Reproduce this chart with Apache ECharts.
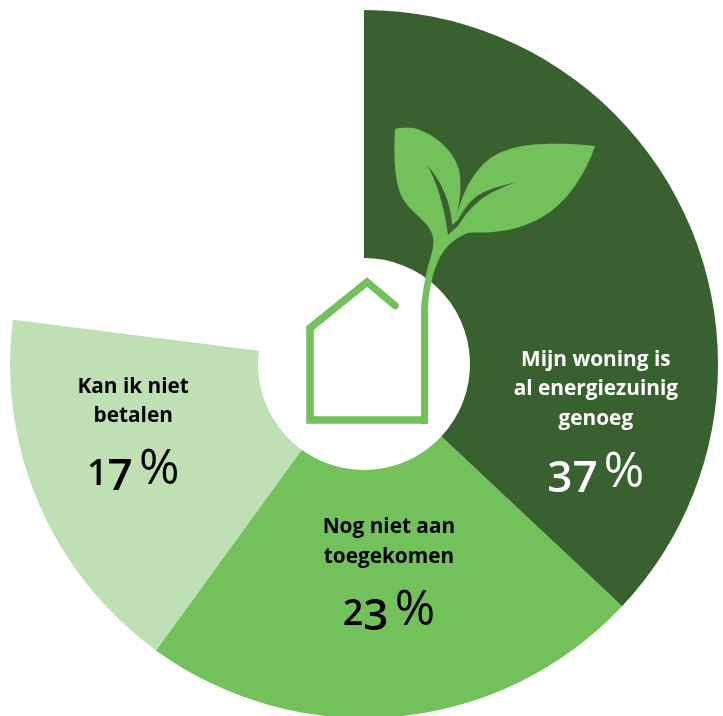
<!DOCTYPE html>
<html><head><meta charset="utf-8">
<style>
html,body{margin:0;padding:0;background:#fff;overflow:hidden}
#c{width:723px;height:716px}
</style>
<script src="https://cdn.jsdelivr.net/npm/echarts@6/dist/echarts.min.js"></script>
</head><body><div id="c"></div>
<script>
const categories = ["Mijn woning is\nal energiezuinig\ngenoeg", "Nog niet aan\ntoegekomen", "Kan ik niet\nbetalen"];
const values = [37, 23, 17];
const remainder = 23;
const colors = ["#396130", "#73c15b", "#bfe0b4"];
const textColors = ["#ffffff", "#000000", "#000000"];
const labelOffsets = [[18, 153.5], [3, -18.5], [-17, -19.5]];

const chart = echarts.init(document.getElementById('c'), null, {renderer: 'canvas'});
const FONT = '"Open Sans"';
const pctText = v => String(v).split('').map(ch => (ch === '1' || ch === '2' ? `{s|${ch}}` : `{d|${ch}}`)).join('') + '{w| }{p|%}';
const items = values.map((v, i) => ({
  name: categories[i], value: v,
  itemStyle: {color: colors[i]},
  label: {
    show: true, position: 'inside', offset: labelOffsets[i],
    formatter: () => categories[i].split('\n').map(s => `{n|${s}}`).join('\n') + `\n{g|}\n` + pctText(v),
    rich: {
      n: {fontFamily: FONT, fontWeight: 700, fontSize: 20.8, lineHeight: 29.5, color: textColors[i]},
      g: {height: 15, lineHeight: 15, fontSize: 1},
      d: {fontFamily: FONT, fontWeight: 600, fontSize: 44, lineHeight: 56, verticalAlign: 'top', padding: [9, 0, 0, 0], color: textColors[i]},
      s: {fontFamily: FONT, fontWeight: 600, fontSize: 36, lineHeight: 56, verticalAlign: 'top', padding: [10.5, 0, 0, 0], color: textColors[i]},
      w: {fontFamily: FONT, fontSize: 24, lineHeight: 56, verticalAlign: 'top'},
      p: {fontFamily: FONT, fontWeight: 400, fontSize: 49, lineHeight: 56, verticalAlign: 'top', color: textColors[i]}
    }
  }
}));
items.push({name: '', value: remainder, itemStyle: {color: 'rgba(0,0,0,0)'}, label: {show: false}, silent: true, emphasis: {disabled: true}});

const plant = 'M395,129 C402,127 413,127 420,130 C438,137 454,152 459,170 C462,185 460,203 455,222 C459,205 465,188 473,177 C482,163 494,154 507,150 C525,143 560,142 595,146 C585,175 570,195 555,208 C535,224 515,230 493,232 C483,233 474,232 468,233 C455,238 446,246 440,257 C433,271 428,290 428,313 L428,424 L421,424 L421,313 C421,297 426,272 431,256 C435,242 434,234 427,225 C418,215 409,209 403,199 C396,187 393,165 395,129';
const veins = 'M427,165 C436,180 444,205 448,235 L458,226 C464,216 473,205 483,198 C493,191 505,186 517,182 C503,185 488,189 477,196 C468,203 462,212 458,220 L452,225 C451,205 443,183 427,165';
const house = [[395,305.5],[367,282],[310,328],[310,420],[424.5,420]];

function flatten(d) {
  const toks = d.match(/[MLC]|-?[\d.]+/g), pts = [];
  let i = 0, cmd = '', cur = [0, 0];
  while (i < toks.length) {
    if (/[MLC]/.test(toks[i])) { cmd = toks[i++]; }
    if (cmd === 'C') {
      const a = toks.slice(i, i + 6).map(Number); i += 6;
      for (let k = 1; k <= 16; k++) {
        const t = k / 16, u = 1 - t;
        pts.push([u*u*u*cur[0] + 3*u*u*t*a[0] + 3*u*t*t*a[2] + t*t*t*a[4],
                  u*u*u*cur[1] + 3*u*u*t*a[1] + 3*u*t*t*a[3] + t*t*t*a[5]]);
      }
      cur = [a[4], a[5]];
    } else {
      cur = [Number(toks[i]), Number(toks[i + 1])]; i += 2;
      pts.push(cur);
    }
  }
  return pts;
}

chart.setOption({
  animation: false,
  backgroundColor: '#fff',
  series: [{
    type: 'pie', center: [364, 364], radius: [106, 354], startAngle: 90, clockwise: true,
    avoidLabelOverlap: false, labelLine: {show: false}, silent: true,
    data: items
  }],
  graphic: [
    {type: 'polyline', z: 100, silent: true, shape: {points: house}, style: {fill: 'none', stroke: '#73c15b', lineWidth: 7.5, lineCap: 'round', lineJoin: 'miter'}},
    {type: 'polygon', z: 101, silent: true, shape: {points: flatten(plant)}, style: {fill: '#73c15b'}},
    {type: 'polygon', z: 102, silent: true, shape: {points: flatten(veins)}, style: {fill: '#396130'}}
  ]
});
</script></body></html>
